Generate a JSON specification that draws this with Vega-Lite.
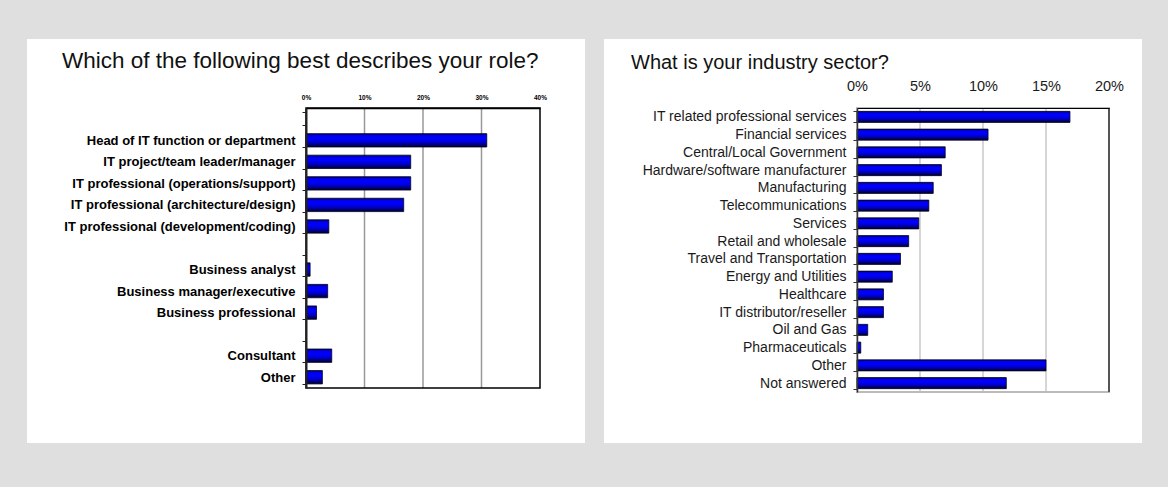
{
  "$schema": "https://vega.github.io/schema/vega-lite/v6.json",
  "background": "#dfdfdf",
  "padding": {"left": 27, "top": 38, "right": 26, "bottom": 45},
  "config": {"view": {"stroke": null}, "font": "Liberation Sans", "axis": {"grid": false}},
  "bounds": "flush",
  "spacing": 317,
  "hconcat": [
    {
      "width": 234,
      "height": 280,
      "title": {"text": "Which of the following best describes your role?", "anchor": "start", "frame": "group", "dx": -244, "offset": -33, "font": "Liberation Sans", "fontSize": 22.5, "fontWeight": "normal", "color": "#111111"},
      "resolve": {"scale": {"y": "independent"}},
      "layer": [
        {
          "data": {"values": [{}]},
          "mark": {"type": "rect", "fill": "white"},
          "encoding": {
            "x": {"datum": -0.4769, "type": "quantitative", "title": null, "scale": {"domain": [0, 0.4]}},
            "x2": {"datum": 0.4769},
            "y": {"datum": -0.1964, "type": "quantitative", "scale": {"domain": [0, 1], "nice": false, "zero": false}, "axis": null},
            "y2": {"datum": 1.2464}
          }
        },
        {
          "data": {"values": [{"g": 0.1}, {"g": 0.2}, {"g": 0.3}]},
          "mark": {"type": "rule", "stroke": "#999999", "strokeWidth": 1.5},
          "encoding": {"x": {"field": "g", "type": "quantitative", "title": null, "scale": {"domain": [0, 0.4]}}}
        },
        {
          "data": {"values": [{}]},
          "mark": {"type": "rect", "fillOpacity": 0, "stroke": "black", "strokeWidth": 1.5},
          "encoding": {
            "x": {"datum": 0, "type": "quantitative", "title": null, "scale": {"domain": [0, 0.4]}},
            "x2": {"datum": 0.4}
          }
        },
        {
          "data": {"values": [
            {"role": "Head of IT function or department", "pct": 0.309},
            {"role": "IT project/team leader/manager", "pct": 0.179},
            {"role": "IT professional (operations/support)", "pct": 0.179},
            {"role": "IT professional (architecture/design)", "pct": 0.167},
            {"role": "IT professional (development/coding)", "pct": 0.039},
            {"role": "Business analyst", "pct": 0.007},
            {"role": "Business manager/executive", "pct": 0.037},
            {"role": "Business professional", "pct": 0.018},
            {"role": "Consultant", "pct": 0.044},
            {"role": "Other", "pct": 0.028}
          ]},
          "mark": {
            "type": "bar",
            "fill": {"gradient": "linear", "x1": 0, "y1": 0, "x2": 0, "y2": 1, "stops": [
              {"offset": 0, "color": "#000055"},
              {"offset": 0.15, "color": "#0000ee"},
              {"offset": 0.4, "color": "#0000ff"},
              {"offset": 0.65, "color": "#0000cc"},
              {"offset": 0.88, "color": "#000066"},
              {"offset": 1, "color": "#000018"}
            ]},
            "stroke": "#000022",
            "strokeWidth": 0.8
          },
          "encoding": {
            "x": {
              "field": "pct", "type": "quantitative", "scale": {"domain": [0, 0.4]},
              "axis": {"orient": "top", "title": null, "zindex": 1, "values": [0, 0.1, 0.2, 0.3, 0.4], "format": ".0%", "grid": false, "ticks": false, "domainColor": "black", "domainWidth": 1.5, "labelFont": "Liberation Sans", "labelFontWeight": "bold", "labelFontSize": 6.5, "labelColor": "black", "labelPadding": 8, "labelFlush": false, "labelOverlap": false}
            },
            "y": {
              "field": "role", "type": "nominal", "sort": null,
              "scale": {"domain": [" ", "Head of IT function or department", "IT project/team leader/manager", "IT professional (operations/support)", "IT professional (architecture/design)", "IT professional (development/coding)", "  ", "Business analyst", "Business manager/executive", "Business professional", "   ", "Consultant", "Other"], "paddingInner": 0.38, "paddingOuter": 0.19},
              "axis": {"orient": "left", "title": null, "zindex": 1, "domainColor": "#222222", "domainWidth": 2, "tickBand": "extent", "tickColor": "#222222", "tickSize": 4, "tickWidth": 1, "labelFont": "Liberation Sans", "labelFontWeight": "bold", "labelFontSize": 13, "labelColor": "black", "labelPadding": 7, "labelLimit": 300}
            }
          }
        }
      ]
    },
    {
      "width": 252,
      "height": 284,
      "title": {"text": "What is your industry sector?", "anchor": "start", "frame": "group", "dx": -226, "offset": -34, "font": "Liberation Sans", "fontSize": 20, "fontWeight": "normal", "color": "#111111"},
      "resolve": {"scale": {"y": "independent"}},
      "layer": [
        {
          "data": {"values": [{}]},
          "mark": {"type": "rect", "fill": "white"},
          "encoding": {
            "x": {"datum": -0.2008, "type": "quantitative", "title": null, "scale": {"domain": [0, 0.2]}},
            "x2": {"datum": 0.2262},
            "y": {"datum": -0.1796, "type": "quantitative", "scale": {"domain": [0, 1], "nice": false, "zero": false}, "axis": null},
            "y2": {"datum": 1.2430}
          }
        },
        {
          "data": {"values": [{"g": 0.05}, {"g": 0.1}, {"g": 0.15}]},
          "mark": {"type": "rule", "stroke": "#bbbbbb", "strokeWidth": 1.2},
          "encoding": {"x": {"field": "g", "type": "quantitative", "title": null, "scale": {"domain": [0, 0.2]}}}
        },
        {
          "data": {"values": [{}]},
          "mark": {"type": "rect", "fillOpacity": 0, "stroke": "#bbbbbb", "strokeWidth": 2},
          "encoding": {
            "x": {"datum": 0, "type": "quantitative", "title": null, "scale": {"domain": [0, 0.2]}},
            "x2": {"datum": 0.2}
          }
        },
        {
          "data": {"values": [{}]},
          "mark": {"type": "rule", "stroke": "#333333", "strokeWidth": 1.5},
          "encoding": {"x": {"datum": 0.2, "type": "quantitative", "title": null, "scale": {"domain": [0, 0.2]}}}
        },
        {
          "data": {"values": [
            {"sector": "IT related professional services", "pct": 0.169},
            {"sector": "Financial services", "pct": 0.104},
            {"sector": "Central/Local Government", "pct": 0.070},
            {"sector": "Hardware/software manufacturer", "pct": 0.067},
            {"sector": "Manufacturing", "pct": 0.0605},
            {"sector": "Telecommunications", "pct": 0.057},
            {"sector": "Services", "pct": 0.049},
            {"sector": "Retail and wholesale", "pct": 0.041},
            {"sector": "Travel and Transportation", "pct": 0.0345},
            {"sector": "Energy and Utilities", "pct": 0.028},
            {"sector": "Healthcare", "pct": 0.021},
            {"sector": "IT distributor/reseller", "pct": 0.021},
            {"sector": "Oil and Gas", "pct": 0.0085},
            {"sector": "Pharmaceuticals", "pct": 0.003},
            {"sector": "Other", "pct": 0.150},
            {"sector": "Not answered", "pct": 0.1185}
          ]},
          "mark": {
            "type": "bar",
            "fill": {"gradient": "linear", "x1": 0, "y1": 0, "x2": 0, "y2": 1, "stops": [
              {"offset": 0, "color": "#000055"},
              {"offset": 0.15, "color": "#0000ee"},
              {"offset": 0.4, "color": "#0000ff"},
              {"offset": 0.65, "color": "#0000cc"},
              {"offset": 0.88, "color": "#000066"},
              {"offset": 1, "color": "#000018"}
            ]},
            "stroke": "#000022",
            "strokeWidth": 0.8
          },
          "encoding": {
            "x": {
              "field": "pct", "type": "quantitative", "scale": {"domain": [0, 0.2]},
              "axis": {"orient": "top", "title": null, "zindex": 1, "values": [0, 0.05, 0.1, 0.15, 0.2], "format": ".0%", "grid": false, "ticks": false, "domainColor": "black", "domainWidth": 1.2, "labelFont": "Liberation Sans", "labelFontSize": 14.5, "labelColor": "#1a1a1a", "labelPadding": 15, "labelFlush": false, "labelOverlap": false}
            },
            "y": {
              "field": "sector", "type": "nominal", "sort": null,
              "scale": {"domain": ["IT related professional services", "Financial services", "Central/Local Government", "Hardware/software manufacturer", "Manufacturing", "Telecommunications", "Services", "Retail and wholesale", "Travel and Transportation", "Energy and Utilities", "Healthcare", "IT distributor/reseller", "Oil and Gas", "Pharmaceuticals", "Other", "Not answered"], "paddingInner": 0.38, "paddingOuter": 0.19},
              "axis": {"orient": "left", "title": null, "zindex": 1, "domainColor": "#333333", "domainWidth": 1.5, "tickBand": "extent", "tickColor": "#333333", "tickSize": 4, "tickWidth": 1, "labelFont": "Liberation Sans", "labelFontSize": 14, "labelColor": "#1a1a1a", "labelPadding": 7, "labelLimit": 300}
            }
          }
        }
      ]
    }
  ]
}
